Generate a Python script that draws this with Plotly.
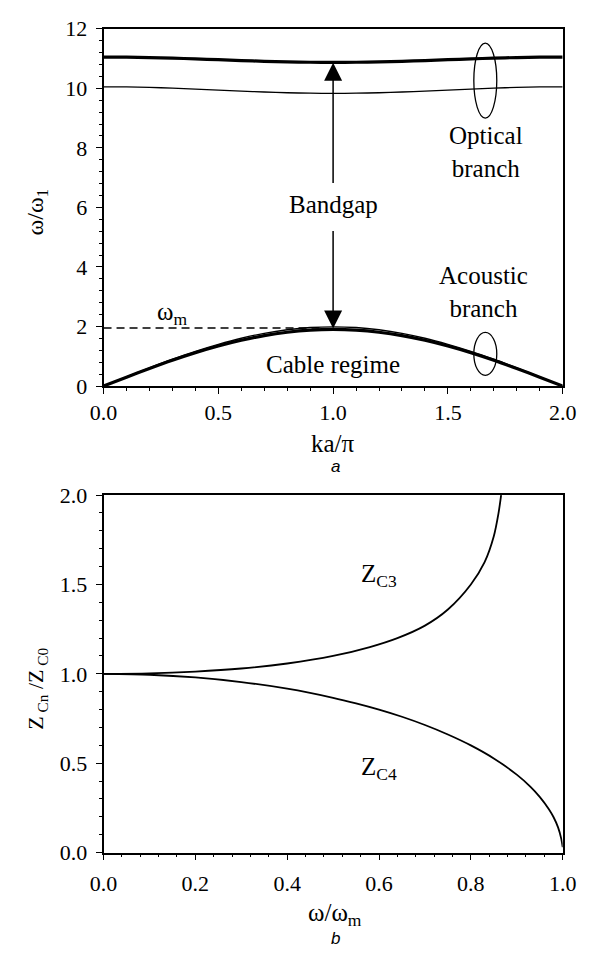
import plotly.graph_objects as go

W, H = 590, 963

# ---------------- data (panel a) ----------------
ka = [0.0, 0.1, 0.2, 0.3, 0.4, 0.5, 0.6, 0.7, 0.8, 0.9, 1.0,
      1.1, 1.2, 1.3, 1.4, 1.5, 1.6, 1.7, 1.8, 1.9, 2.0]
optical_thick = [11.05, 11.046, 11.033, 11.013, 10.988, 10.96, 10.932, 10.907, 10.887, 10.874, 10.87,
                 10.874, 10.887, 10.907, 10.932, 10.96, 10.988, 11.013, 11.033, 11.046, 11.05]
optical_thin = [10.05, 10.045, 10.029, 10.005, 9.974, 9.94, 9.906, 9.875, 9.851, 9.835, 9.83,
                9.835, 9.851, 9.875, 9.906, 9.94, 9.974, 10.005, 10.029, 10.045, 10.05]
acoustic_thick = [0.0, 0.297, 0.587, 0.863, 1.117, 1.343, 1.537, 1.693, 1.807, 1.877, 1.9,
                  1.877, 1.807, 1.693, 1.537, 1.343, 1.117, 0.863, 0.587, 0.297, 0.0]
acoustic_thin = [0.0, 0.31, 0.612, 0.9, 1.165, 1.4, 1.605, 1.77, 1.89, 1.965, 1.99,
                 1.965, 1.89, 1.77, 1.605, 1.4, 1.165, 0.9, 0.612, 0.31, 0.0]
wm_x = [0.0, 0.94]
wm_y = [1.95, 1.95]

# ---------------- data (panel b) ----------------
w3 = [0.0, 0.1, 0.2, 0.3, 0.4, 0.5, 0.58, 0.64, 0.70, 0.75, 0.80, 0.83, 0.85, 0.86, 0.866]
zc3 = [1.0, 1.003, 1.013, 1.03, 1.058, 1.10, 1.15, 1.20, 1.27, 1.36, 1.50, 1.625, 1.77, 1.895, 2.0]
w4 = [0.0, 0.1, 0.2, 0.3, 0.4, 0.5, 0.55, 0.6, 0.65, 0.7, 0.75, 0.8, 0.85, 0.9,
      0.93, 0.95, 0.97, 0.98, 0.99, 0.997, 1.0]
zc4 = [1.0, 0.995, 0.98, 0.954, 0.917, 0.866, 0.835, 0.80, 0.76, 0.714, 0.661, 0.60, 0.527, 0.436,
       0.368, 0.312, 0.243, 0.199, 0.141, 0.077, 0.03]

xticks_a = [0.0, 0.5, 1.0, 1.5, 2.0]
yticks_a = [0, 2, 4, 6, 8, 10, 12]
xticks_b = [0.0, 0.2, 0.4, 0.6, 0.8, 1.0]
yticks_b = [0.0, 0.5, 1.0, 1.5, 2.0]

SERIF = "'Liberation Serif', 'Times New Roman', Times, serif"
SANS = "'Liberation Sans', Arial, sans-serif"

fig = go.Figure()

def line(x, y, w, xa="x", ya="y", dash="solid", shape="spline"):
    fig.add_trace(go.Scatter(x=x, y=y, mode="lines", xaxis=xa, yaxis=ya,
                             line=dict(color="black", width=w, dash=dash, shape=shape, smoothing=0.8),
                             hoverinfo="skip", showlegend=False))

line(ka, optical_thin, 1.3)
line(ka, optical_thick, 3.2)
line(ka, acoustic_thin, 1.3)
line(ka, acoustic_thick, 3.2)
line(wm_x, wm_y, 1.5, dash="8px,5px", shape="linear")
line(w3, zc3, 1.8, "x2", "y2")
line(w4, zc4, 1.8, "x2", "y2")

def px(x):
    return x / W

def py(y):
    return 1 - y / H

axis_common = dict(showline=True, linecolor="black", linewidth=1.6, mirror=True,
                   ticks="outside", ticklen=6, tickwidth=1.4, tickcolor="black",
                   showgrid=False, zeroline=False,
                   tickfont=dict(family=SERIF, size=22, color="black"))

fig.update_layout(
    width=W, height=H, margin=dict(l=0, r=0, t=0, b=0),
    paper_bgcolor="white", plot_bgcolor="white", showlegend=False,
    font=dict(family=SERIF, size=20, color="black"),
    xaxis=dict(domain=[px(94), px(576)], range=[0, 2], anchor="y",
               tickvals=xticks_a, tickformat=".1f",
               minor=dict(dtick=0.1, ticks="outside", ticklen=3, tickwidth=1.2, tickcolor="black"),
               **axis_common),
    yaxis=dict(domain=[py(384), py(17.2)], range=[0, 12], anchor="x",
               tickvals=yticks_a, ticklabelstandoff=4,
               minor=dict(dtick=0.4, ticks="outside", ticklen=3, tickwidth=1.2, tickcolor="black"),
               **axis_common),
    xaxis2=dict(domain=[px(94), px(576)], range=[0, 1], anchor="y2",
                tickvals=xticks_b, tickformat=".1f", ticklabelstandoff=4,
                minor=dict(dtick=0.04, ticks="outside", ticklen=3, tickwidth=1.2, tickcolor="black"),
                **axis_common),
    yaxis2=dict(domain=[py(863), py(496)], range=[0, 2], anchor="x2",
                tickvals=yticks_b, tickformat=".1f", ticklabelstandoff=4,
                minor=dict(dtick=0.1, ticks="outside", ticklen=3, tickwidth=1.2, tickcolor="black"),
                **axis_common),
)

# ellipses
fig.add_shape(type="circle", xref="x", yref="y", x0=1.613, x1=1.713, y0=9.0, y1=11.52,
              line=dict(color="black", width=1.3))
fig.add_shape(type="circle", xref="x", yref="y", x0=1.613, x1=1.713, y0=0.36, y1=1.8,
              line=dict(color="black", width=1.3))

# bandgap arrows
fig.add_annotation(x=1.0, y=10.86, ax=1.0, ay=6.77, xref="x", yref="y", axref="x", ayref="y",
                   text="", showarrow=True, arrowhead=2, arrowsize=2.4, arrowwidth=1.5, arrowcolor="black")
fig.add_annotation(x=1.0, y=1.93, ax=1.0, ay=5.26, xref="x", yref="y", axref="x", ayref="y",
                   text="", showarrow=True, arrowhead=2, arrowsize=2.4, arrowwidth=1.5, arrowcolor="black")

def txt(x, y, s, size=25, xref="x", yref="y", family=SERIF, angle=0):
    fig.add_annotation(x=x, y=y, xref=xref, yref=yref, text=s, showarrow=False,
                       font=dict(family=family, size=size, color="black"),
                       textangle=angle, align="center", xanchor="center", yanchor="middle")

txt(1.0, 6.1, "Bandgap")
txt(1.665, 7.87, "Optical<br>branch")
txt(1.657, 3.16, "Acoustic<br>branch")
txt(1.0, 0.73, "Cable regime")
txt(0.30, 2.45, "ω<sub>m</sub>")

txt(0.60, 1.55, "Z<sub>C3</sub>", xref="x2", yref="y2")
txt(0.60, 0.47, "Z<sub>C4</sub>", xref="x2", yref="y2")

# axis titles and panel letters
txt(px(335), py(443), "ka/π", size=25, xref="paper", yref="paper")
txt(px(337), py(467), "<i>a</i>", size=17, xref="paper", yref="paper", family=SANS)
txt(px(24), py(205), "ω/ω<sub>1</sub>", size=24, xref="paper", yref="paper", angle=-90)
txt(px(24), py(695), "Z<sub> Cn</sub> /Z<sub> C0</sub>", size=22, xref="paper", yref="paper", angle=-90)
txt(px(337), py(927), "ω/ω<sub>m</sub>", size=25, xref="paper", yref="paper")
txt(px(337), py(951), "<i>b</i>", size=17, xref="paper", yref="paper", family=SANS)

fig.write_html("out.html")
